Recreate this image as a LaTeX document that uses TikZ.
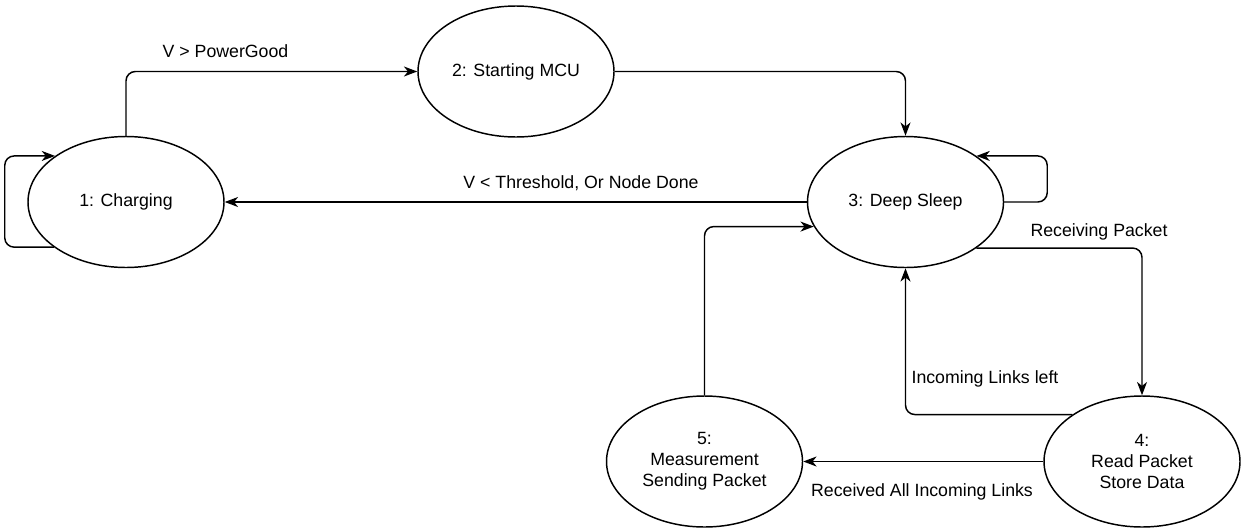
\documentclass[tikz,border=0pt]{standalone}
\usepackage{fontspec}
\setmainfont{Liberation Sans}
\usetikzlibrary{shapes.geometric,arrows.meta}
\newcommand{\statefont}{\fontsize{13.3}{15.8}\selectfont}
\tikzset{
  state/.style={ellipse, draw, line width=1.1pt, minimum width=147pt,
    minimum height=98.25pt, inner sep=0pt, align=center, font=\statefont},
  arr/.style={-{Stealth[length=10pt,width=7.5pt,inset=3pt]}, line width=1.1pt,
    rounded corners=7pt},
  lbl/.style={inner sep=0pt, font=\statefont}
}
\begin{document}
\begin{tikzpicture}[x=0.75pt,y=-0.75pt]
  \useasboundingbox (0,0) rectangle (1242,529);

  % states
  \node[state] (e1) at (126,202)    {1: Charging};
  \node[state] (e2) at (516,71.5)   {2: Starting MCU};
  \node[state] (e3) at (905.5,202)  {3: Deep Sleep};
  \node[state] (e4) at (1142,461.5) {4:\\Read Packet\\Store Data};
  \node[state] (e5) at (704.5,461.5){5:\\Measurement\\Sending Packet};

  % transitions
  \draw[arr] (e1.212.5) -- ++(-49,0) |- (e1.147);
  \draw[arr] (e1.north) |- (e2.west);
  \draw[arr] (e2.east) -| (e3.north);
  \draw[arr] (e3.west) -- (e1.east);
  \draw[arr] (e3.east) -- ++(43,0) |- (e3.33);
  \draw[arr] (e3.327.5) -| (e4.north);
  \draw[arr] (e4.146) -| (e3.south);
  \draw[arr] (e4.west) -- (e5.east);
  \draw[arr] (e5.north) |- (e3.195.4);

  % transition labels
  \node[lbl] (l12) at (225.5,51)  {V > PowerGood};
  \node[lbl] (l31) at (581,183)   {V < Threshold, Or Node Done};
  \node[lbl] (l34) at (1099,232)  {Receiving Packet};
  \node[lbl] (l43) at (985,379)   {Incoming Links left};
  \node[lbl] (l45) at (922,492)   {Received All Incoming Links};
\end{tikzpicture}
\end{document}
